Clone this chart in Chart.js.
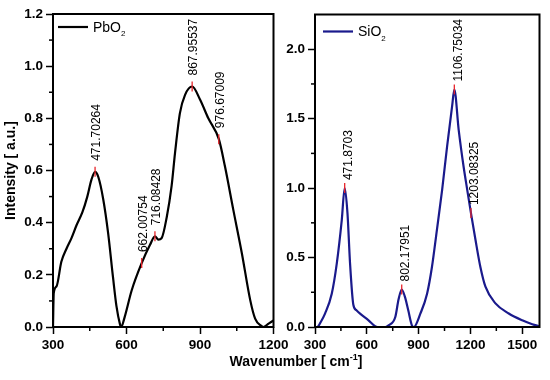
<!DOCTYPE html>
<html>
<head>
<meta charset="utf-8">
<script src="https://cdn.jsdelivr.net/npm/chart.js@4.4.0/dist/chart.umd.min.js"></script>
<style>
  body { margin: 0; background: #fff; }
  #wrap { position: relative; width: 550px; height: 380px; overflow: hidden; }
  #wrap canvas { position: absolute; top: 0; }
  #xtitle {
    position: absolute; left: 146px; top: 353px; width: 300px;
    text-align: center; font: bold 14px "Liberation Sans", Arial, sans-serif;
    line-height: 16px; color: #000;
  }
  #xtitle sup { font-size: 9px; line-height: 0; }
</style>
</head>
<body>
<div id="wrap">
  <canvas id="pbChart" width="300" height="380" style="left:0"></canvas>
  <canvas id="siChart" width="270" height="380" style="left:280px"></canvas>
  <div id="xtitle">Wavenumber [ cm<sup>-1</sup>]</div>
</div>
<script>
// PbO2 spectrum
const pbWave = [300, 303, 314, 334, 355, 375, 396, 420, 440, 457,
  471.7, 485, 505, 525, 545, 559, 573, 578, 593, 621,
  662, 696, 716, 730, 743, 764, 784, 798, 818, 839,
  868, 900, 934, 977, 1002, 1036, 1071, 1105, 1125, 1150,
  1158, 1180, 1200];
const pbIntensity = [0, 0.13, 0.155, 0.25, 0.30, 0.34, 0.39, 0.44, 0.50, 0.565,
  0.595, 0.575, 0.49, 0.36, 0.19, 0.08, 0.012, 0, 0.04, 0.14,
  0.245, 0.315, 0.348, 0.335, 0.34, 0.42, 0.54, 0.667, 0.82, 0.89,
  0.922, 0.872, 0.80, 0.72, 0.615, 0.449, 0.282, 0.103, 0.032, 0.004,
  0, 0.013, 0.025];
const pbPeakWave = [471.70264, 662.00754, 716.08428, 867.95537, 976.67009];
const pbPeakVal = [0.595, 0.245, 0.348, 0.922, 0.72];
const pbPeakLabels = ['471.70264', '662.00754', '716.08428', '867.95537', '976.67009'];
const pbXTicks = [300, 450, 600, 750, 900, 1050, 1200];
const pbYTicks = [0, 0.1, 0.2, 0.3, 0.4, 0.5, 0.6, 0.7, 0.8, 0.9, 1.0, 1.1, 1.2];

// SiO2 spectrum
const siWave = [300, 312, 335, 358, 397, 426, 455, 471.9, 488, 503,
  522, 540, 561, 610, 648, 662, 708, 726, 765, 784,
  802.2, 820, 840, 861, 872, 910, 949, 977, 1006, 1036,
  1065, 1094, 1106.8, 1132, 1161, 1180, 1203.1, 1229, 1258, 1287,
  1345, 1422, 1500, 1558, 1600];
const siIntensity = [0, 0, 0.04, 0.096, 0.24, 0.457, 0.77, 1.0, 0.82, 0.457,
  0.16, 0.12, 0.096, 0.048, 0.006, 0, 0, 0.012, 0.072, 0.2,
  0.27, 0.22, 0.12, 0.012, 0, 0.096, 0.24, 0.43, 0.70, 0.986,
  1.30, 1.59, 1.71, 1.42, 1.15, 1.0, 0.82, 0.63, 0.43, 0.29,
  0.17, 0.097, 0.048, 0.02, 0.005];
const siPeakWave = [471.8703, 802.17951, 1106.75034, 1203.08325];
const siPeakVal = [1.0, 0.27, 1.71, 0.82];
const siPeakLabels = ['471.8703', '802.17951', '1106.75034', '1203.08325'];
const siXTicks = [300, 450, 600, 750, 900, 1050, 1200, 1350, 1500];
const siYTicks = [0, 0.25, 0.5, 0.75, 1.0, 1.25, 1.5, 1.75, 2.0];

const FONT = '"Liberation Sans", Arial, sans-serif';

function onStep(v, step) {
  const r = v / step;
  return Math.abs(r - Math.round(r)) < 1e-6;
}

// frame, minor ticks, peak marks and the legend
const decorPlugin = {
  id: 'decor',
  afterDatasetsDraw(chart, args, opts) {
    const ctx = chart.ctx, a = chart.chartArea;
    const xs = chart.scales.x, ys = chart.scales.y;
    ctx.save();
    ctx.strokeStyle = '#000';
    ctx.lineWidth = 1.5;
    xs.ticks.forEach(t => {
      if (!onStep(t.value, opts.xMajor)) {
        const px = xs.getPixelForValue(t.value);
        ctx.beginPath(); ctx.moveTo(px, a.bottom); ctx.lineTo(px, a.bottom + 4); ctx.stroke();
      }
    });
    ys.ticks.forEach(t => {
      if (!onStep(t.value, opts.yMajor)) {
        const py = ys.getPixelForValue(t.value);
        ctx.beginPath(); ctx.moveTo(a.left, py); ctx.lineTo(a.left - 4, py); ctx.stroke();
      }
    });
    ctx.lineWidth = 2;
    ctx.strokeRect(a.left, a.top, a.right - a.left, a.bottom - a.top);

    // peaks
    opts.peakWave.forEach((w, i) => {
      const px = xs.getPixelForValue(w);
      const py = ys.getPixelForValue(opts.peakVal[i]);
      ctx.strokeStyle = '#e8242a';
      ctx.lineWidth = 1.3;
      ctx.beginPath(); ctx.moveTo(px, py - 5); ctx.lineTo(px, py + 5); ctx.stroke();
      ctx.save();
      ctx.translate(px + opts.dx, py - opts.gap);
      ctx.rotate(-Math.PI / 2);
      ctx.fillStyle = '#000';
      ctx.font = '12px ' + FONT;
      ctx.textAlign = 'left';
      ctx.textBaseline = 'middle';
      ctx.fillText(opts.peakLabels[i], 0, 0);
      ctx.restore();
    });

    // legend
    const lx = a.left + opts.legX, ly = a.top + opts.legY;
    ctx.strokeStyle = opts.color;
    ctx.lineWidth = 2.2;
    ctx.beginPath(); ctx.moveTo(lx, ly); ctx.lineTo(lx + 30, ly); ctx.stroke();
    ctx.fillStyle = '#000';
    ctx.font = '14px ' + FONT;
    ctx.textAlign = 'left';
    ctx.textBaseline = 'middle';
    ctx.fillText(opts.name, lx + 35, ly + 1);
    const w = ctx.measureText(opts.name).width;
    ctx.font = '8px ' + FONT;
    ctx.fillText('2', lx + 35 + w, ly + 7);
    ctx.restore();
  }
};

function makeChart(id, wave, intensity, color, cfg) {
  const pts = wave.map((w, i) => ({ x: w, y: intensity[i] }));
  return new Chart(document.getElementById(id).getContext('2d'), {
    type: 'line',
    data: {
      datasets: [{
        data: pts,
        borderColor: color,
        borderWidth: 2.2,
        pointRadius: 0,
        cubicInterpolationMode: 'monotone',
        fill: false
      }]
    },
    options: {
      responsive: false,
      animation: false,
      layout: { padding: { top: cfg.top, right: cfg.right, left: 0, bottom: 0 } },
      plugins: {
        legend: { display: false },
        tooltip: { enabled: false },
        decor: cfg.decor
      },
      scales: {
        x: {
          type: 'linear',
          min: cfg.xMin, max: cfg.xMax,
          afterBuildTicks: s => { s.ticks = cfg.xTicks.map(v => ({ value: v })); },
          afterFit: s => { s.height = 53; },
          border: { display: false },
          grid: {
            drawOnChartArea: false,
            tickLength: 7,
            tickWidth: 1.5,
            tickColor: c => onStep(c.tick.value, cfg.decor.xMajor) ? '#000' : 'rgba(0,0,0,0)'
          },
          ticks: {
            autoSkip: false,
            maxRotation: 0,
            padding: 3,
            color: '#000',
            font: { family: FONT, size: 13.5, weight: 'bold' },
            callback: v => onStep(v, cfg.decor.xMajor) ? String(Math.round(v)) : ''
          }
        },
        y: {
          min: 0, max: cfg.yMax,
          afterBuildTicks: s => { s.ticks = cfg.yTicks.map(v => ({ value: v })); },
          afterFit: s => { s.width = cfg.yWidth; },
          border: { display: false },
          grid: {
            drawOnChartArea: false,
            tickLength: 7,
            tickWidth: 1.5,
            tickColor: c => onStep(c.tick.value, cfg.decor.yMajor) ? '#000' : 'rgba(0,0,0,0)'
          },
          ticks: {
            autoSkip: false,
            padding: 3,
            color: '#000',
            font: { family: FONT, size: 13.5, weight: 'bold' },
            callback: v => onStep(v, cfg.decor.yMajor) ? v.toFixed(1) : ''
          },
          title: {
            display: cfg.yTitle !== '',
            text: cfg.yTitle,
            color: '#000',
            font: { family: FONT, size: 14, weight: 'bold' },
            padding: { top: 3, bottom: 0 }
          }
        }
      }
    },
    plugins: [decorPlugin]
  });
}

makeChart('pbChart', pbWave, pbIntensity, '#000000', {
  top: 14, right: 26.5, yWidth: 53, xMin: 300, xMax: 1200, yMax: 1.2,
  xTicks: pbXTicks, yTicks: pbYTicks,
  yTitle: 'Intensity [ a.u.]',
  decor: {
    xMajor: 300, yMajor: 0.2,
    peakWave: pbPeakWave, peakVal: pbPeakVal, peakLabels: pbPeakLabels,
    dx: 1.5, gap: 11, name: 'PbO', color: '#000000', legX: 5, legY: 13
  }
});

makeChart('siChart', siWave, siIntensity, '#1a1a8c', {
  top: 14.5, right: 10.5, yWidth: 35, xMin: 300, xMax: 1600, yMax: 2.25,
  xTicks: siXTicks, yTicks: siYTicks,
  yTitle: '',
  decor: {
    xMajor: 300, yMajor: 0.5,
    peakWave: siPeakWave, peakVal: siPeakVal, peakLabels: siPeakLabels,
    dx: 4, gap: 8, name: 'SiO', color: '#1a1a8c', legX: 8, legY: 17
  }
});
</script>
</body>
</html>
